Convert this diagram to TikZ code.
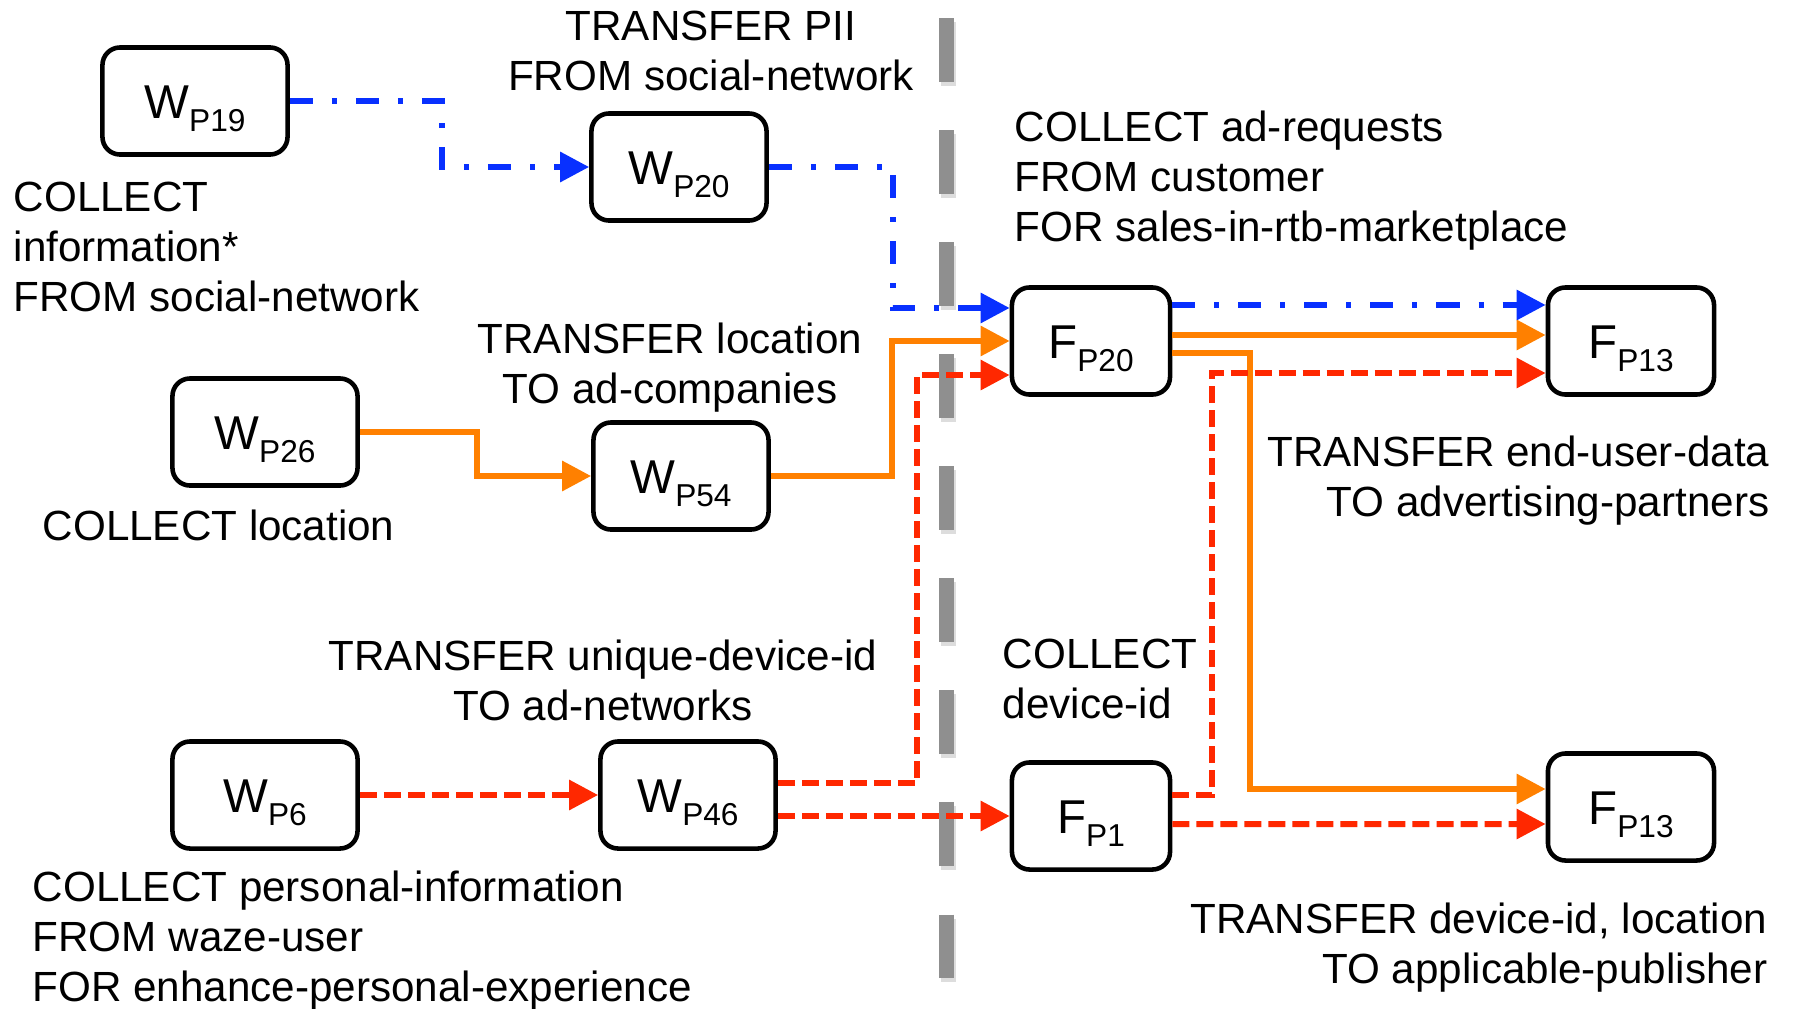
\documentclass[tikz,border=0pt]{standalone}
\usepackage{fontspec}
\setmainfont{Liberation Sans}
\usetikzlibrary{arrows.meta,positioning,calc}
\definecolor{FlowBlue}{RGB}{8,48,255}
\definecolor{FlowOrange}{RGB}{255,128,0}
\definecolor{FlowRed}{RGB}{255,40,0}
\definecolor{SplitGray}{RGB}{143,143,143}
\newcommand{\plab}[2]{\rule{0pt}{13.8pt}{\fontsize{13.5}{16}\selectfont #1}\raisebox{-3.8pt}{\fontsize{9}{11}\selectfont #2}}
\tikzset{
  pbox/.style={draw=black,fill=white,rounded corners=5pt,line width=1.3pt,
               minimum height=1.07cm,inner sep=0pt},
  wbox/.style={pbox,minimum width=1.85cm},
  wmbox/.style={pbox,minimum width=1.75cm},
  fbox/.style={pbox,minimum width=1.58cm},
  fwbox/.style={pbox,minimum width=1.66cm},
  lbl/.style={inner sep=0pt,font=\fontsize{12}{14.2}\selectfont},
  arrb/.style={-{Triangle[length=0.29cm,width=0.29cm]},FlowBlue,line width=0.06cm,
               dash pattern=on 0.23cm off 0.19cm on 0.05cm off 0.19cm},
  arro/.style={-{Triangle[length=0.29cm,width=0.29cm]},FlowOrange,line width=0.06cm},
  arrr/.style={-{Triangle[length=0.29cm,width=0.29cm]},FlowRed,line width=0.06cm,
               dash pattern=on 0.17cm off 0.07cm},
  split/.style={SplitGray,line width=0.15cm,dash pattern=on 0.64cm off 0.48cm},
}
\begin{document}
\begin{tikzpicture}[x=0.01cm,y=-0.01cm]
  \useasboundingbox (0,0) rectangle (1793,1009);

  % divider
  \draw[split,SplitGray!30] (948,22) -- (948,982);
  \draw[split] (946,18) -- (946,978);

  % boxes
  \node[wbox]  (w19)  at (195,101)  {\plab{W}{P19}};
  \node[wmbox] (w20)  at (679,167)  {\plab{W}{P20}};
  \node[wbox]  (w26)  at (265,432)  {\plab{W}{P26}};
  \node[wmbox] (w54)  at (681,476)  {\plab{W}{P54}};
  \node[wbox]  (w6)   at (265,795)  {\plab{W}{P6}};
  \node[wmbox] (w46)  at (688,795)  {\plab{W}{P46}};
  \node[fbox]  (f20)  at (1091,341) {\plab{F}{P20}};
  \node[fwbox] (f13a) at (1631,341) {\plab{F}{P13}};
  \node[fbox]  (f1)   at (1091,816) {\plab{F}{P1}};
  \node[fwbox] (f13b) at (1631,807) {\plab{F}{P13}};

  % labels
  \node[lbl,anchor=north,align=center] (pii) at (711,10)
    {TRANSFER PII\\FROM social-network};
  \node[lbl,anchor=north west,align=left] (info) at (13,181)
    {COLLECT\\information*\\FROM social-network};
  \node[lbl,anchor=north west,align=left] (adreq) at (1014,110)
    {COLLECT ad-requests\\FROM customer\\FOR sales-in-rtb-marketplace};
  \node[lbl,anchor=north,align=center] (tloc) at (670,322)
    {TRANSFER location\\TO ad-companies};
  \node[lbl,anchor=north west,align=left] (cloc) at (42,509)
    {COLLECT location};
  \node[lbl,anchor=north east,align=right] (eud) at (1770,435)
    {TRANSFER end-user-data\\TO advertising-partners};
  \node[lbl,anchor=north,align=center] (udid) at (603,639)
    {TRANSFER unique-device-id\\TO ad-networks};
  \node[lbl,anchor=north west,align=left] (cdev) at (1002,638)
    {COLLECT\\device-id};
  \node[lbl,anchor=north west,align=left] (pinf) at (32,870)
    {COLLECT personal-information\\FROM waze-user\\FOR enhance-personal-experience};
  \node[lbl,anchor=north east,align=right] (dloc) at (1768,902)
    {TRANSFER device-id, location\\TO applicable-publisher};

  % blue flow
  \draw[arrb] (w19.east) -- ++(152,0) |- (w20.west);
  \draw[arrb] (w20.east) -- ++(124,0) |- ([yshift=0.33cm]f20.west);
  \draw[arrb] ([yshift=0.36cm]f20.east) -- ([yshift=0.36cm]f13a.west);

  % orange flow
  \draw[arro] (w26.east) -- ++(117,0) |- (w54.west);
  \draw[arro] (w54.east) -- ++(121,0) |- (f20.west);
  \draw[arro] ([yshift=0.06cm]f20.east) -- ([yshift=0.06cm]f13a.west);
  \draw[arro] ([yshift=-0.12cm]f20.east) -- ++(78,0) |- ([yshift=0.18cm]f13b.west);

  % red flow
  \draw[arrr] (w6.east) -- (w46.west);
  \draw[arrr] ([yshift=0.12cm]w46.east) -- ++(139,0) |- ([yshift=-0.34cm]f20.west);
  \draw[arrr] (w46.east |- f1.west) -- (f1.west);
  \draw[arrr] ([yshift=0.21cm]f1.east) -- ++(40,0) |- ([yshift=-0.32cm]f13a.west);
  \draw[arrr] ([yshift=-0.08cm]f1.east) -- ([yshift=-0.17cm]f13b.west);
\end{tikzpicture}
\end{document}
